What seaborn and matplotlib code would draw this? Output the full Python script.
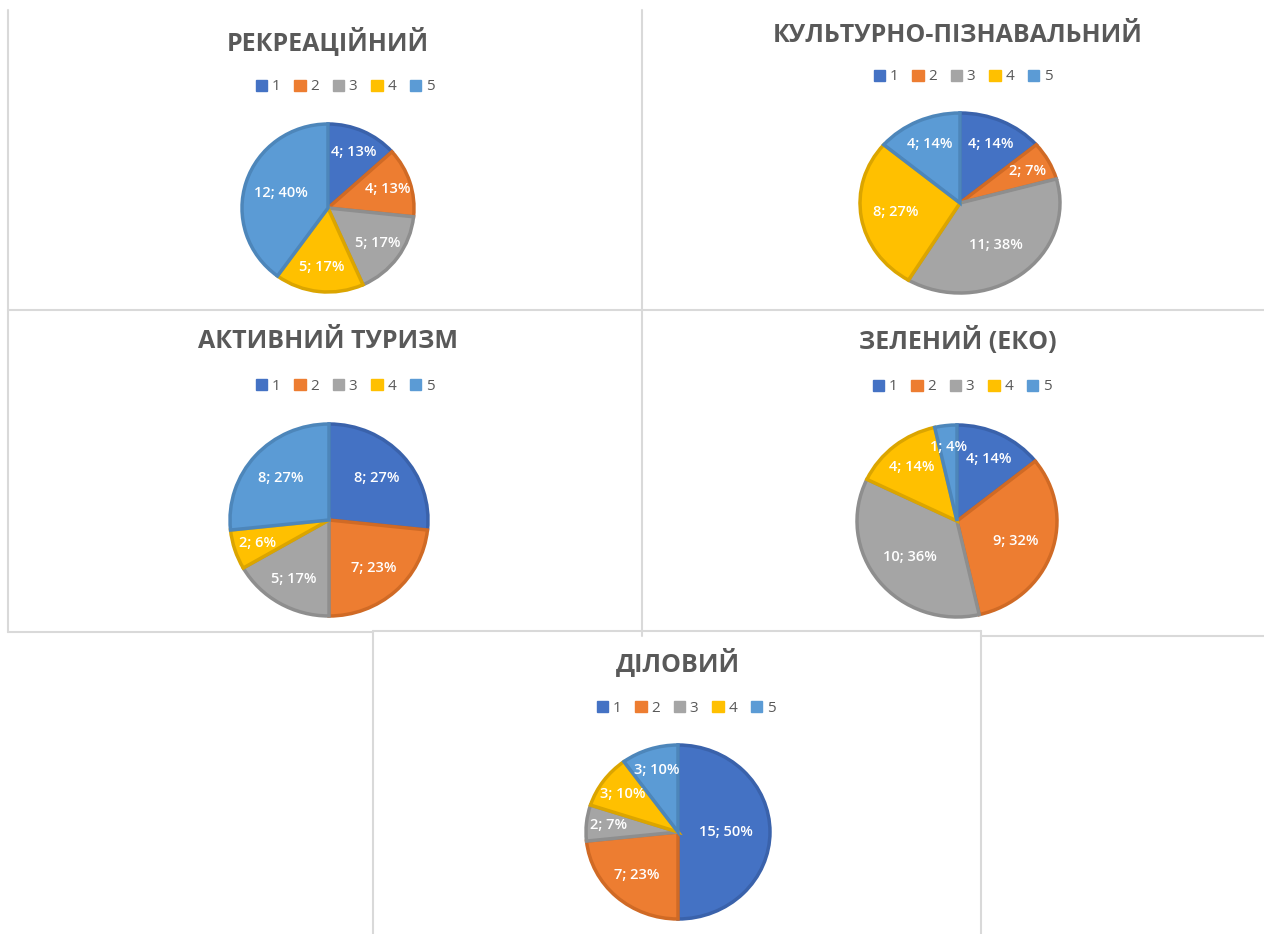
import numpy as np
import matplotlib.pyplot as plt
import seaborn as sns
from matplotlib.lines import Line2D
from matplotlib.patches import Patch

# Data
categories = ["1", "2", "3", "4", "5"]

titles = ["РЕКРЕАЦІЙНИЙ", "КУЛЬТУРНО-ПІЗНАВАЛЬНИЙ", "АКТИВНИЙ ТУРИЗМ",
          "ЗЕЛЕНИЙ (ЕКО)", "ДІЛОВИЙ"]

recreational = [4, 4, 5, 5, 12]
cultural = [4, 2, 11, 8, 4]
active = [8, 7, 5, 2, 8]
green = [4, 9, 10, 4, 1]
business = [15, 7, 2, 3, 3]

# percent labels as printed on the chart
recreational_pct = [13, 13, 17, 17, 40]
cultural_pct = [14, 7, 38, 27, 14]
active_pct = [27, 23, 17, 6, 27]
green_pct = [14, 32, 36, 14, 4]
business_pct = [50, 23, 7, 10, 10]

series = [recreational, cultural, active, green, business]
pcts = [recreational_pct, cultural_pct, active_pct, green_pct, business_pct]

colors = ["#4472C4", "#ED7D31", "#A5A5A5", "#FFC000", "#5B9BD5"]
edges = ["#3A62AB", "#D06A25", "#8E8E8E", "#DBA500", "#4D86BA"]

sns.set_theme(style="white")
plt.rcParams['font.family'] = ['Open Sans', 'DejaVu Sans']

W, H = 1264, 934
fig = plt.figure(figsize=(W / 100, H / 100), dpi=100)
fig.patch.set_facecolor("white")


def fx(x):
    return x / W


def fy(y):
    return 1 - y / H


# panel borders (pixel coords)
border = "#D9D9D9"
segments = [
    ((8, 10), (8, 632)),
    ((642, 10), (642, 636)),
    ((8, 310), (1264, 310)),
    ((8, 632), (373, 632)),
    ((981, 636), (1264, 636)),
    ((373, 631), (981, 631)),
    ((373, 631), (373, 934)),
    ((981, 631), (981, 934)),
]
for (x0, y0), (x1, y1) in segments:
    fig.add_artist(Line2D([fx(x0), fx(x1)], [fy(y0), fy(y1)],
                          color=border, lw=1.5, transform=fig.transFigure))

# layout per chart: pie box (cx, cy, rx, ry), title pos, legend pos
layout = [
    dict(pie=(328, 208, 86, 84), title=(328, 42), legend=(345, 87)),
    dict(pie=(960, 203, 100, 90), title=(958, 36), legend=(963, 77)),
    dict(pie=(329, 520, 99, 96), title=(328, 341), legend=(345, 386)),
    dict(pie=(957, 521, 100, 96), title=(958, 341), legend=(962, 387)),
    dict(pie=(678, 832, 92, 87), title=(678, 663), legend=(686, 708)),
]

for vals, pct, title, lay in zip(series, pcts, titles, layout):
    cx, cy, rx, ry = lay["pie"]
    pad = 1.03
    ax = fig.add_axes([fx(cx - rx * pad), fy(cy + ry * pad),
                       2 * rx * pad / W, 2 * ry * pad / H])
    labels_txt = [f"{v}; {p}%" for v, p in zip(vals, pct)]
    wedges, _ = ax.pie(vals, colors=colors, startangle=90, counterclock=False,
                       wedgeprops=dict(linewidth=2.5))
    for w, ec in zip(wedges, edges):
        w.set_edgecolor(ec)
    # data labels inside each slice, small slices pushed outwards
    total = sum(vals)
    for w, v, txt in zip(wedges, vals, labels_txt):
        ang = np.deg2rad((w.theta1 + w.theta2) / 2)
        d = 0.8 - 0.55 * v / total
        ax.text(d * np.cos(ang), d * np.sin(ang), txt, ha="center", va="center",
                color="white", fontsize=10.5, fontweight="semibold")
    ax.set_xlim(-pad, pad)
    ax.set_ylim(-pad, pad)
    ax.set_aspect("auto")
    ax.axis("off")

    tx, ty = lay["title"]
    fig.text(fx(tx), fy(ty), title, ha="center", va="center",
             fontsize=18, fontweight="bold", color="#595959")

    lx, ly = lay["legend"]
    handles = [Patch(facecolor=c, edgecolor=c) for c in colors]
    fig.legend(handles, categories, loc="center", ncol=5,
               bbox_to_anchor=(fx(lx), fy(ly)), frameon=False,
               fontsize=11, labelcolor="#595959", handlelength=0.75,
               handleheight=0.75, handletextpad=0.3, columnspacing=0.9)

fig.savefig("out.png", dpi=100, facecolor="white")
